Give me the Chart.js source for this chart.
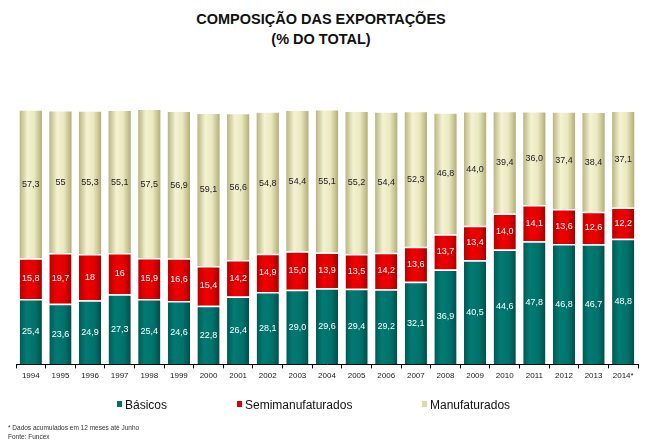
<!DOCTYPE html>
<html lang="pt">
<head>
<meta charset="UTF-8">
<title>Composição das Exportações</title>
<script src="https://cdn.jsdelivr.net/npm/chart.js"></script>
<style>
    * { margin: 0; padding: 0; box-sizing: border-box; }
    body { background: #fff; font-family: "Liberation Sans", Arial, sans-serif; }
    #wrap { position: relative; width: 671px; height: 446px; overflow: hidden; }
    #chart { position: absolute; left: 0; top: 0; }
    .title {
        position: absolute; left: 0; width: 642px; text-align: center;
        font-weight: bold; font-size: 14.5px; color: #111;
    }
    .legend { position: absolute; top: 398px; font-size: 12px; color: #111; white-space: nowrap; }
    .legend i { display: inline-block; width: 5px; height: 6px; margin-right: 3px; vertical-align: 2px; }
    .note { position: absolute; left: 8px; font-size: 6.5px; color: #333; }
</style>
</head>
<body>
<div id="wrap">
    <div class="title" style="top: 11px;">COMPOSIÇÃO DAS EXPORTAÇÕES</div>
    <div class="title" style="top: 31px;">(% DO TOTAL)</div>

    <canvas id="chart" width="671" height="446"></canvas>

    <div class="legend" style="left: 117px;"><i style="background:#00706a"></i>Básicos</div>
    <div class="legend" style="left: 237px;"><i style="background:#d40000"></i>Semimanufaturados</div>
    <div class="legend" style="left: 422px;"><i style="background:#dcd9a8"></i>Manufaturados</div>

    <div class="note" style="top: 424px;">* Dados acumulados em 12 meses até Junho</div>
    <div class="note" style="top: 433px;">Fonte: Funcex</div>
</div>

<script>
    // valores (% do total)
    const anos = ["1994", "1995", "1996", "1997", "1998", "1999", "2000", "2001", "2002", "2003", "2004",
        "2005", "2006", "2007", "2008", "2009", "2010", "2011", "2012", "2013", "2014*"];

    const basicos = ["25,4", "23,6", "24,9", "27,3", "25,4", "24,6", "22,8", "26,4", "28,1", "29,0", "29,6",
        "29,4", "29,2", "32,1", "36,9", "40,5", "44,6", "47,8", "46,8", "46,7", "48,8"];

    const semimanufaturados = ["15,8", "19,7", "18", "16", "15,9", "16,6", "15,4", "14,2", "14,9", "15,0", "13,9",
        "13,5", "14,2", "13,6", "13,7", "13,4", "14,0", "14,1", "13,6", "12,6", "12,2"];

    const manufaturados = ["57,3", "55", "55,3", "55,1", "57,5", "56,9", "59,1", "56,6", "54,8", "54,4", "55,1",
        "55,2", "54,4", "52,3", "46,8", "44,0", "39,4", "36,0", "37,4", "38,4", "37,1"];

    const toNum = s => parseFloat(s.replace(",", "."));

    // cylinder-like horizontal gradient for each bar
    function barFill(stops, flat) {
        return function (context) {
            const chart = context.chart;
            const xs = chart.scales.x;
            if (!chart.chartArea || !xs) return flat;
            const cx = xs.getPixelForValue(context.dataIndex);
            const w = xs.width / anos.length * 0.75;
            const g = chart.ctx.createLinearGradient(cx - w / 2, 0, cx + w / 2, 0);
            stops.forEach(s => g.addColorStop(s[0], s[1]));
            return g;
        };
    }

    const valueLabels = {
        id: "valueLabels",
        afterDatasetsDraw(chart) {
            const ctx = chart.ctx;
            ctx.save();
            ctx.font = '9px "Liberation Sans", Arial, sans-serif';
            ctx.textAlign = "center";
            ctx.textBaseline = "middle";
            chart.data.datasets.forEach((ds, i) => {
                const meta = chart.getDatasetMeta(i);
                ctx.fillStyle = ds.labelColor;
                meta.data.forEach((bar, j) => {
                    ctx.fillText(ds.texts[j], bar.x, (bar.y + bar.base) / 2);
                });
            });
            ctx.restore();
        }
    };

    new Chart(document.getElementById("chart"), {
        type: "bar",
        data: {
            labels: anos,
            datasets: [
                {
                    label: "Básicos",
                    data: basicos.map(toNum),
                    texts: basicos,
                    labelColor: "#ffffff",
                    backgroundColor: barFill([[0, "#005a54"], [0.3, "#007b73"], [0.7, "#00716b"], [1, "#004e49"]], "#00706a"),
                    borderColor: "#ffffff",
                    borderWidth: { top: 1.5, bottom: 0, left: 0, right: 0 }
                },
                {
                    label: "Semimanufaturados",
                    data: semimanufaturados.map(toNum),
                    texts: semimanufaturados,
                    labelColor: "#ffffff",
                    backgroundColor: barFill([[0, "#b80000"], [0.35, "#ee0000"], [0.7, "#e20000"], [1, "#a30000"]], "#d40000"),
                    borderColor: "#ffffff",
                    borderWidth: { top: 1.5, bottom: 0, left: 0, right: 0 }
                },
                {
                    label: "Manufaturados",
                    data: manufaturados.map(toNum),
                    texts: manufaturados,
                    labelColor: "#222222",
                    backgroundColor: barFill([[0, "#b9b583"], [0.35, "#f4f2d2"], [0.65, "#ebe9c0"], [1, "#b3ae7a"]], "#dcd9a8"),
                    borderWidth: 0
                }
            ]
        },
        options: {
            responsive: false,
            animation: false,
            layout: { padding: { left: 16, right: 33, top: 107, bottom: 62 } },
            datasets: { bar: { categoryPercentage: 1, barPercentage: 0.75 } },
            plugins: {
                legend: { display: false },
                tooltip: { enabled: false }
            },
            scales: {
                x: {
                    stacked: true,
                    border: { display: true, color: "#000", width: 1 },
                    grid: { drawOnChartArea: false, drawTicks: true, tickLength: 4, color: "#000" },
                    ticks: {
                        color: "#222",
                        padding: 3,
                        maxRotation: 0,
                        autoSkip: false,
                        font: { family: '"Liberation Sans", Arial, sans-serif', size: 8 }
                    }
                },
                y: { stacked: true, display: false, min: 0, max: 100 }
            }
        },
        plugins: [valueLabels]
    });
</script>
</body>
</html>
